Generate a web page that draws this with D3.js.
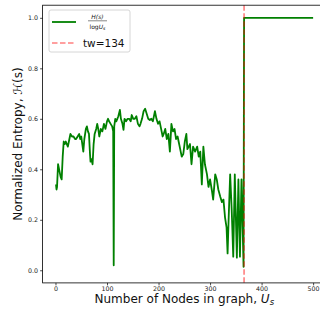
<!DOCTYPE html>
<html>
<head>
<meta charset="utf-8">
<script src="https://cdn.jsdelivr.net/npm/d3@7"></script>
<style>
  body { margin: 0; background: #fff; }
  svg { display: block; font-family: 'DejaVu Sans', sans-serif; }
</style>
</head>
<body>
<div id="chart"></div>
<script>
// values
const nodes = [1, 2, 3, 5, 6, 8, 10, 12, 14, 16, 18, 20, 22, 24, 26, 29, 32, 35, 38, 40,
  43, 46, 48, 50, 52, 54, 56, 59, 61, 63, 65, 67, 68, 70, 72, 74, 76, 79, 81, 83,
  85, 88, 91, 94, 97, 100, 102, 104, 107, 110, 112, 113, 114, 116, 118, 120, 122, 125, 127, 130,
  132, 134, 137, 140, 143, 146, 148, 151, 154, 157, 160, 163, 165, 168, 171, 174, 177, 180, 183, 186,
  189, 193, 196, 199, 202, 205, 208, 210, 213, 216, 219, 222, 225, 228, 231, 234, 237, 240, 243, 245,
  248, 251, 254, 256, 261, 264, 267, 271, 275, 278, 281, 284, 287, 290, 294, 297, 300, 304, 306, 310,
  313, 316, 320, 323, 326, 329, 332, 334, 336, 339, 342, 345, 348, 352, 355, 358, 361, 365, 366, 500]
const entropy = [0.34, 0.32, 0.33, 0.42, 0.41, 0.39, 0.37, 0.36, 0.45, 0.51, 0.50, 0.51, 0.50, 0.49, 0.51, 0.54, 0.53, 0.53, 0.52, 0.52,
  0.53, 0.54, 0.52, 0.53, 0.50, 0.47, 0.52, 0.56, 0.57, 0.55, 0.54, 0.46, 0.43, 0.44, 0.42, 0.50, 0.54, 0.56, 0.58, 0.56,
  0.53, 0.56, 0.55, 0.58, 0.56, 0.59, 0.60, 0.59, 0.58, 0.57, 0.55, 0.02, 0.57, 0.60, 0.59, 0.60, 0.61, 0.635, 0.60, 0.58,
  0.556, 0.60, 0.59, 0.60, 0.60, 0.59, 0.615, 0.60, 0.60, 0.61, 0.58, 0.57, 0.58, 0.60, 0.63, 0.64, 0.62, 0.60, 0.595, 0.60,
  0.59, 0.63, 0.60, 0.58, 0.59, 0.56, 0.53, 0.54, 0.56, 0.52, 0.54, 0.47, 0.58, 0.55, 0.56, 0.52, 0.53, 0.50, 0.47, 0.45,
  0.46, 0.51, 0.54, 0.48, 0.50, 0.42, 0.49, 0.47, 0.49, 0.45, 0.47, 0.34, 0.49, 0.42, 0.38, 0.33, 0.36, 0.31, 0.28, 0.38,
  0.36, 0.32, 0.29, 0.27, 0.28, 0.21, 0.17, 0.067, 0.20, 0.38, 0.24, 0.054, 0.38, 0.05, 0.36, 0.054, 0.36, 0.014, 1.0, 1.0]
const tw = 366
const twLabel = 'tw=134'
const xTicks = [0, 100, 200, 300, 400, 500]
const yTicks = [0.0, 0.2, 0.4, 0.6, 0.8, 1.0]

const W = 320, H = 311
const plot = { left: 42.6, right: 326, top: 5.2, bottom: 282.9 }

const svg = d3.select('#chart').append('svg')
  .attr('width', W)
  .attr('height', H)

const scaleX = d3.scaleLinear().domain([-25, 525]).range([plot.left, plot.right])
const scaleY = d3.scaleLinear().domain([-0.05, 1.05]).range([plot.bottom, plot.top])

const xAxis = svg.append('g')
  .attr('transform', `translate(0, ${plot.bottom})`)
  .call(d3.axisBottom(scaleX).tickValues(xTicks).tickSize(2.5).tickPadding(1).tickFormat(d3.format('d')))
const yAxis = svg.append('g')
  .attr('transform', `translate(${plot.left}, 0)`)
  .call(d3.axisLeft(scaleY).tickValues(yTicks).tickSize(2.5).tickPadding(2).tickFormat(d3.format('.1f')))

;[xAxis, yAxis].forEach(g => {
  g.select('.domain').remove()
  g.selectAll('line').attr('stroke', '#000').attr('stroke-width', 0.7)
  g.selectAll('text').attr('font-size', '6.3px').attr('fill', '#222')
    .attr('font-family', 'DejaVu Sans')
})

// data line
const line = d3.line().x((d, i) => scaleX(nodes[i])).y(d => scaleY(d))
svg.append('path')
  .datum(entropy)
  .attr('d', line)
  .attr('fill', 'none')
  .attr('stroke', 'green')
  .attr('stroke-width', 1.8)
  .attr('stroke-linejoin', 'round')

// vertical threshold line
svg.append('line')
  .attr('x1', scaleX(tw)).attr('x2', scaleX(tw))
  .attr('y1', plot.top).attr('y2', plot.bottom)
  .attr('stroke', 'red')
  .attr('stroke-opacity', 0.5)
  .attr('stroke-width', 1.6)
  .attr('stroke-dasharray', '5.5,2.5')

// spines
svg.append('rect')
  .attr('x', plot.left).attr('y', plot.top)
  .attr('width', plot.right - plot.left).attr('height', plot.bottom - plot.top)
  .attr('fill', 'none').attr('stroke', '#000').attr('stroke-width', 0.8)

// axis labels
const xLabel = svg.append('text')
  .attr('x', (plot.left + plot.right) / 2)
  .attr('y', 302.5)
  .attr('text-anchor', 'middle')
  .attr('font-size', '12px')
  .attr('fill', '#111')
xLabel.append('tspan').text('Number of Nodes in graph, ')
xLabel.append('tspan').attr('font-style', 'italic').text('U')
xLabel.append('tspan').attr('font-style', 'italic').attr('font-size', '8.5px').attr('dy', 2.5).text('s')

const yLabel = svg.append('text')
  .attr('transform', `translate(21.5, ${(plot.top + plot.bottom) / 2}) rotate(-90)`)
  .attr('text-anchor', 'middle')
  .attr('font-size', '12px')
  .attr('fill', '#111')
yLabel.append('tspan').text('Normalized Entropy, ')
yLabel.append('tspan').attr('font-style', 'italic').text('ℋ')
yLabel.append('tspan').text('(s)')

// legend
const legend = svg.append('g').attr('transform', 'translate(49, 10)')
legend.append('rect')
  .attr('width', 81).attr('height', 42).attr('rx', 2)
  .attr('fill', '#fff').attr('fill-opacity', 0.8)
  .attr('stroke', '#ccc').attr('stroke-width', 0.8)
legend.append('line')
  .attr('x1', 3).attr('x2', 27).attr('y1', 12).attr('y2', 12)
  .attr('stroke', 'green').attr('stroke-width', 1.8)
legend.append('text')
  .attr('x', 48.5).attr('y', 9)
  .attr('text-anchor', 'middle')
  .attr('font-size', '6px').attr('font-style', 'italic').attr('fill', '#111')
  .text('H(s)')
legend.append('line')
  .attr('x1', 39).attr('x2', 58).attr('y1', 10.8).attr('y2', 10.8)
  .attr('stroke', '#111').attr('stroke-width', 0.5)
const den = legend.append('text')
  .attr('x', 48.5).attr('y', 18.5)
  .attr('text-anchor', 'middle')
  .attr('font-size', '6px').attr('fill', '#111')
den.append('tspan').text('log')
den.append('tspan').attr('font-style', 'italic').text('U')
den.append('tspan').attr('font-style', 'italic').attr('font-size', '4.5px').attr('dy', 1.5).text('s')
legend.append('line')
  .attr('x1', 3).attr('x2', 27).attr('y1', 33).attr('y2', 33)
  .attr('stroke', 'red').attr('stroke-opacity', 0.5).attr('stroke-width', 1.6)
  .attr('stroke-dasharray', '5.5,2.5')
legend.append('text')
  .attr('x', 34).attr('y', 37)
  .attr('font-size', '10.5px').attr('fill', '#111')
  .text(twLabel)
</script>
</body>
</html>
